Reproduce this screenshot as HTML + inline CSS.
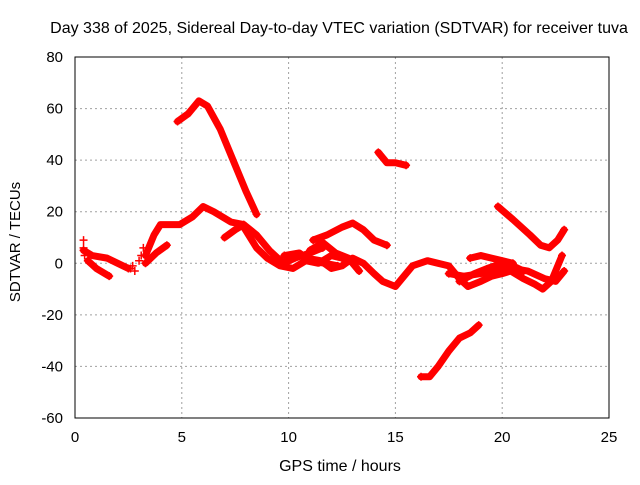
<!DOCTYPE html>
<html><head><meta charset="utf-8"><style>
body{margin:0;background:#fff;font-family:"Liberation Sans",sans-serif}
svg text{font-family:"Liberation Sans",sans-serif;font-size:15px;fill:#000}
</style></head><body>
<svg id="chart" width="640" height="480" xmlns="http://www.w3.org/2000/svg">
<text x="339" y="33" text-anchor="middle" style="font-size:16px">Day 338 of 2025, Sidereal Day-to-day VTEC variation (SDTVAR) for receiver tuva</text>
<text x="340" y="471" text-anchor="middle" style="font-size:16px">GPS time / hours</text>
<text transform="translate(20,242) rotate(-90)" text-anchor="middle" style="font-size:15px">SDTVAR / TECUs</text>
<g id="grid"></g><g id="ticks"></g><g id="marks"></g>
<rect x="75" y="57" width="534" height="361" fill="none" stroke="#000" stroke-width="1"/>
</svg>
<script>
const xTicks=[0,5,10,15,20,25];
const yTicks=[-60,-40,-20,0,20,40,60,80];
const seriesHours=[
[4.8,5.3,5.8,6.2,6.8,7.5,8,8.5],
[14.2,14.6,15,15.5],
[16.2,16.6,17,17.5,18,18.5,18.9],
[19.8,20.5,21.3,21.8,22.2,22.6,22.9],
[0.4,0.8,1.5,2,2.5],
[0.6,1,1.6],
[3.3,3.7,4,4.9,5.5,6,6.5,7.3,7.9,8.5,9.1,9.75,10.3,11,11.6],
[7.9,8.5,9,9.6,10.2,10.8,11.4,12,12.5],
[7,7.5,7.9],
[3.3,3.8,4.3],
[11.15,11.8,12.5,13,13.5,14,14.6],
[10.8,11.5,12,12.5,13,13.5,14,14.4,15,15.8,16.5,17,17.5,18,18.4,19,19.5,20,20.4,21,21.5,21.9,22.3,22.8],
[11,11.6,12.2,12.8,13.3],
[18,18.7,19.3,20,20.5,21],
[18.5,19,19.5,20,20.5],
[17.5,18.2,19,19.8,20.5,21.2,22,22.5,22.9],
[9.8,10.5,11,11.7,12.3]
];
const seriesValues=[
[55,58,63,61,52,38,28,19],
[43,39,39,38],
[-44,-44,-40,-34,-29,-27,-24],
[22,17,11,7,6,9,13],
[5,3,2,0,-2],
[1,-2,-5],
[3,11,15,15,18,22,20,16,15,11,5,0,2,4,6],
[14,6,2,-1,-2,1,0,3,2],
[10,13,15],
[0,4,7],
[9,11,14,15.6,13,9,7],
[2,1,-2,-1,2,0,-4,-7,-9,-1,1,0,-1,-6,-9,-7,-5,-4,-3,-6,-8,-10,-7,3],
[5,8,4,2,-3],
[-7,-4,-2,0,-1,-3],
[2,3,2,1,0],
[-4,-5,-4,-3,-2,-3,-6,-7,-3],
[3,4,1,0,-1]
];
const loosePlusH=[0.4,0.4,0.45,2.6,2.7,2.8,3.0,3.1,3.2];
const loosePlusV=[9,6,3,-2,-1,-3,1,3,6];
const X=h=>75+h*534/25, Y=v=>57+(80-v)*361/140;
const ns="http://www.w3.org/2000/svg";
const grid=document.getElementById('grid'),ticks=document.getElementById('ticks'),marks=document.getElementById('marks');
function el(t,a,p){const e=document.createElementNS(ns,t);for(const k in a)e.setAttribute(k,a[k]);p.appendChild(e);return e;}
xTicks.forEach(t=>{
  if(t>0&&t<25){const g=el('line',{x1:X(t),x2:X(t),y1:57,y2:418,stroke:'#a0a0a0','stroke-dasharray':'2,3'},grid);
  
  }
  const tk=el('text',{x:X(t),y:442,'text-anchor':'middle'},ticks);tk.textContent=t;
  
  
});
yTicks.forEach(t=>{
  if(t>-60&&t<80){const g=el('line',{x1:75,x2:609,y1:Y(t),y2:Y(t),stroke:'#a0a0a0','stroke-dasharray':'2,3'},grid);
  
  }
  const tk=el('text',{x:63,y:Y(t)+5,'text-anchor':'end'},ticks);tk.textContent=t;
  
  
});
function plus(h,v){const p=el('path',{d:`M${X(h)-4},${Y(v)}h8M${X(h)},${Y(v)-4}v8`,stroke:'#f00','stroke-width':1.5},marks);
  
  }
seriesHours.forEach((hs,i)=>{
  const vs=seriesValues[i];
  const pl=el('polyline',{points:hs.map((h,j)=>X(h)+','+Y(vs[j])).join(' '),fill:'none',stroke:'#f00','stroke-width':7,'stroke-linejoin':'round','stroke-linecap':'round'},marks);
  
  
  plus(hs[0],vs[0]);plus(hs[hs.length-1],vs[vs.length-1]);
});
loosePlusH.forEach((h,i)=>plus(h,loosePlusV[i]));
</script>
</body></html>
